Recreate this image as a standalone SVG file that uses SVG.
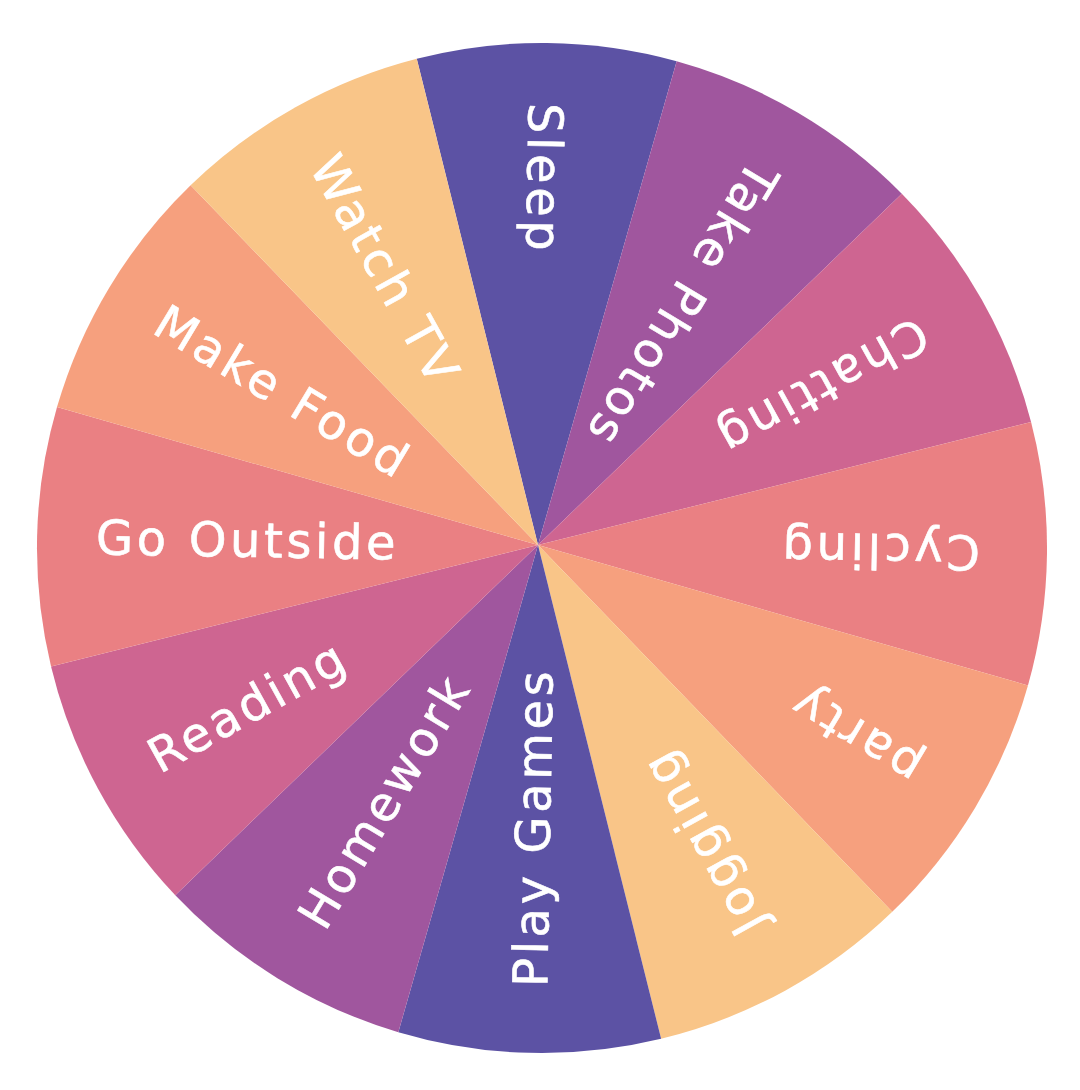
<svg xmlns="http://www.w3.org/2000/svg" width="1080" height="1090" viewBox="0 0 1080 1090">
<style>
.lbl{font-family:"DejaVu Sans","Liberation Sans",sans-serif;font-size:48px;letter-spacing:3.6px;fill:#ffffff;stroke:#ffffff;stroke-width:0.6px;}
.c1{fill:#5C52A4}.c2{fill:#A0569E}.c3{fill:#CE6591}.c4{fill:#EA8083}.c5{fill:#F6A07E}.c6{fill:#F9C588}
</style>
<rect width="1080" height="1090" fill="#ffffff"/>
<g id="wheel">
<g id="sleep"><path class="c1" d="M538 545 L416.78 58.76 A505 505 0 0 1 676.69 61.26 Z"/><text class="lbl" transform="translate(538 545) rotate(91)" x="-442" y="17">Sleep</text></g>
<g id="take-photos"><path class="c2" d="M538 545 L676.69 61.26 A505 505 0 0 1 901.82 193.63 Z"/><text class="lbl" transform="translate(538 545) rotate(121)" x="-442" y="17">Take Photos</text></g>
<g id="chatting"><path class="c3" d="M538 545 L901.82 193.63 A505 505 0 0 1 1031.07 422.07 Z"/><text class="lbl" transform="translate(538 545) rotate(151)" x="-442" y="17">Chatting</text></g>
<g id="cycling"><path class="c4" d="M538 545 L1031.07 422.07 A505 505 0 0 1 1027.95 685.47 Z"/><text class="lbl" transform="translate(538 545) rotate(181)" x="-442" y="17">Cycling</text></g>
<g id="party"><path class="c5" d="M538 545 L1027.95 685.47 A505 505 0 0 1 892.25 911.80 Z"/><text class="lbl" transform="translate(538 545) rotate(211)" x="-442" y="17">party</text></g>
<g id="jogging"><path class="c6" d="M538 545 L892.25 911.80 A505 505 0 0 1 661.10 1038.77 Z"/><text class="lbl" transform="translate(538 545) rotate(241)" x="-442" y="17">Jogging</text></g>
<g id="play-games"><path class="c1" d="M538 545 L661.10 1038.77 A505 505 0 0 1 398.33 1032.17 Z"/><text class="lbl" transform="translate(538 545) rotate(271)" x="-442" y="17">Play Games</text></g>
<g id="homework"><path class="c2" d="M538 545 L398.33 1032.17 A505 505 0 0 1 175.32 895.27 Z"/><text class="lbl" transform="translate(538 545) rotate(301)" x="-442" y="17">Homework</text></g>
<g id="reading"><path class="c3" d="M538 545 L175.32 895.27 A505 505 0 0 1 51.05 666.40 Z"/><text class="lbl" transform="translate(538 545) rotate(331)" x="-442" y="17">Reading</text></g>
<g id="go-outside"><path class="c4" d="M538 545 L51.05 666.40 A505 505 0 0 1 57.03 407.11 Z"/><text class="lbl" transform="translate(538 545) rotate(1)" x="-442" y="17">Go Outside</text></g>
<g id="make-food"><path class="c5" d="M538 545 L57.03 407.11 A505 505 0 0 1 190.61 185.31 Z"/><text class="lbl" transform="translate(538 545) rotate(31)" x="-442" y="17">Make Food</text></g>
<g id="watch-tv"><path class="c6" d="M538 545 L190.61 185.31 A505 505 0 0 1 416.78 58.76 Z"/><text class="lbl" transform="translate(538 545) rotate(61)" x="-442" y="17">Watch TV</text></g>
</g>
<g id="connectors"/>
</svg>
